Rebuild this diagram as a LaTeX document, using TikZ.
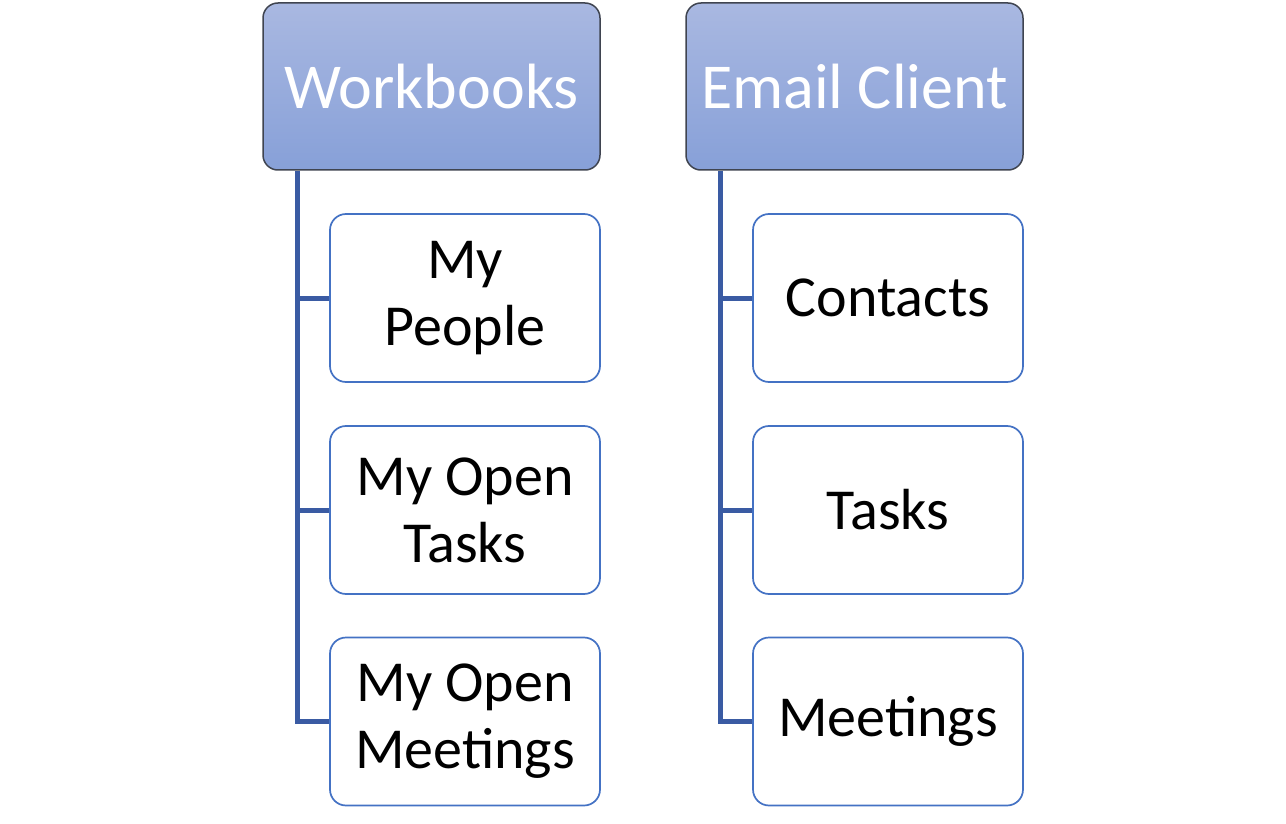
\documentclass[tikz,border=0pt]{standalone}
\usepackage{fontspec}
\setmainfont{Carlito}
\definecolor{hdtop}{HTML}{A9B8E1}
\definecolor{hdbot}{HTML}{87A0D8}
\definecolor{hdborder}{HTML}{3F4450}
\definecolor{chborder}{HTML}{4472C4}
\definecolor{conn}{HTML}{3A5BA3}
\tikzset{
  x=1pt,y=-1pt,
  header/.style={draw=hdborder, line width=1.5pt, rounded corners=15pt,
    top color=hdtop, bottom color=hdbot, minimum width=337pt, minimum height=167pt,
    text=white, font=\fontsize{64}{72}\selectfont, inner sep=0pt, align=center},
  child/.style={draw=chborder, line width=1.7pt, rounded corners=16pt, fill=white,
    minimum width=270pt, minimum height=168pt, text=black,
    font=\fontsize{58}{67}\selectfont, inner sep=0pt, align=center},
  link/.style={draw=conn, line width=5pt}
}
\begin{document}
\begin{tikzpicture}
\useasboundingbox (0,0) rectangle (1286,824);
\fill[white] (0,0) rectangle (1286,824);
% left column
\node[header] (wb) at (431.5,86.5) {Workbooks};
\node[child] (c1) at (465,298) {My\\People};
\node[child] (c2) at (465,510) {My Open\\Tasks};
\node[child] (c3) at (465,721.5) {My Open\\Meetings};
% right column
\node[header] (ec) at (854.5,86.5) {Email Client};
\node[child] (d1) at (888,298) {Contacts};
\node[child] (d2) at (888,510) {Tasks};
\node[child] (d3) at (888,721.5) {Meetings};
% connectors
\coordinate (wbx) at (297,0);
\coordinate (ecx) at (720,0);
\draw[link] (wb.south -| wbx) |- (c3.west);
\draw[link] (wbx |- c1.west) -- (c1.west);
\draw[link] (wbx |- c2.west) -- (c2.west);
\draw[link] (ec.south -| ecx) |- (d3.west);
\draw[link] (ecx |- d1.west) -- (d1.west);
\draw[link] (ecx |- d2.west) -- (d2.west);
\end{tikzpicture}
\end{document}
